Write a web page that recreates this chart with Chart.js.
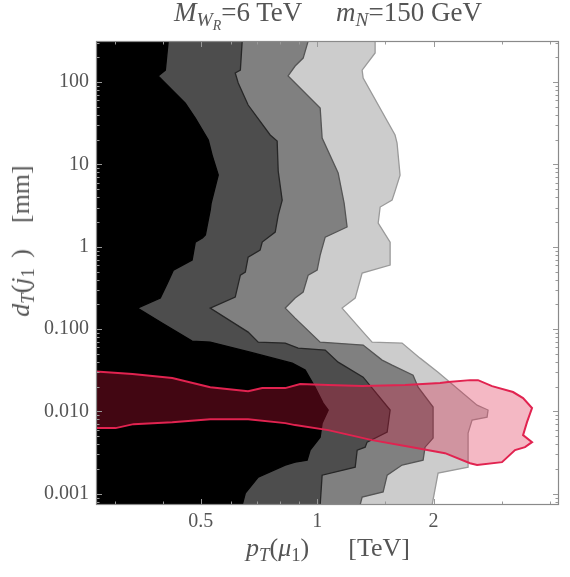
<!DOCTYPE html>
<html>
<head>
<meta charset="utf-8">
<script src="https://cdn.jsdelivr.net/npm/chart.js@4.4.1/dist/chart.umd.min.js"></script>
<style>
body{margin:0;background:#fff;}
#wrap{position:relative;width:570px;height:577px;}
.lbl{position:absolute;font-family:"Liberation Serif","Times New Roman",serif;color:#555;white-space:nowrap;line-height:1;}
.lbl sub{font-size:72%;vertical-align:-0.28em;line-height:0;}
</style>
</head>
<body>
<div id="wrap">
<canvas id="chart" width="570" height="577"></canvas>
<div class="lbl" id="title" style="left:328px;top:-1px;font-size:27px;transform:translateX(-50%);"><i>M</i><sub><i>W</i><sub><i>R</i></sub></sub>=6 TeV&nbsp;&nbsp;&nbsp;&nbsp;&nbsp;<i>m</i><sub><i>N</i></sub>=150 GeV</div>
<div class="lbl" id="xTitle" style="left:328px;top:535px;font-size:26px;transform:translateX(-50%);"><i>p</i><sub><i>T</i></sub>(<i>μ</i><sub>1</sub>)&nbsp;&nbsp;&nbsp;&nbsp;&nbsp;&nbsp;[TeV]</div>
<div class="lbl" id="yTitle" style="left:21px;top:241px;font-size:26px;transform:translate(-50%,-50%) rotate(-90deg);"><i>d</i><sub><i>T</i></sub>(<i>j</i><sub>1</sub>&thinsp;&thinsp;)&nbsp;&nbsp;&nbsp;&nbsp;[mm]</div>
</div>
<script>
// axis ranges (TeV, mm)
const xMin=0.268, xMax=4.22;
const yMin=0.00073, yMax=316;

// tick values
const xTicks=[0.5,1,2];
const xTickLabels=["0.5","1","2"];
const xMinorTicks=[0.3,0.4,0.6,0.7,0.8,0.9,1.5,3,4];
const yTicks=[0.001,0.01,0.1,1,10,100];
const yTickLabels=["0.001","0.010","0.100","1","10","100"];
const yMinorSteps=[2,3,4,5,6,7,8,9];

// contour edges, top to bottom: [pT (TeV), dT (mm)]
const contourBlack=[[0.412,316],[0.405,140],[0.388,119],[0.456,55.7],[0.484,36.6],[0.523,19.8],[0.535,13.0],[0.555,7.43],[0.532,3.40],[0.529,2.79],[0.514,1.39],[0.505,1.28],[0.484,1.14],[0.475,0.689],[0.425,0.521],[0.410,0.362],[0.393,0.238],[0.343,0.180],[0.398,0.118],[0.475,0.0715],[0.529,0.0695],[0.671,0.0525],[0.862,0.0386],[0.931,0.0318],[0.988,0.0197],[1.036,0.0126],[1.068,0.0104],[1.030,0.00721],[1.018,0.00487],[0.959,0.00339],[0.942,0.00256],[0.877,0.00242],[0.827,0.00223],[0.704,0.00159],[0.652,0.00102],[0.640,0.000727]];
const contourDark=[[0.640,316],[0.633,140],[0.614,129],[0.625,97.5],[0.663,52.7],[0.756,22.8],[0.788,19.2],[0.793,8.31],[0.812,3.69],[0.793,2.43],[0.779,1.51],[0.721,1.14],[0.712,0.912],[0.663,0.750],[0.652,0.493],[0.633,0.453],[0.614,0.245],[0.529,0.180],[0.663,0.0919],[0.704,0.0695],[0.827,0.0676],[0.893,0.0588],[1.049,0.0556],[1.133,0.0397],[1.315,0.0261],[1.544,0.0104],[1.517,0.00560],[1.346,0.00424],[1.331,0.00368],[1.269,0.00339],[1.254,0.00210],[1.030,0.00168],[1.018,0.000727]];
const contourMid=[[0.948,316],[0.920,196],[0.877,157],[0.841,119],[0.877,97.5],[1.018,48.4],[1.030,20.9],[1.133,7.86],[1.174,3.40],[1.195,1.74],[1.049,1.31],[1.018,0.793],[1.000,0.521],[0.948,0.453],[0.920,0.282],[0.877,0.238],[0.827,0.180],[0.877,0.136],[1.018,0.0695],[1.315,0.0639],[1.472,0.0420],[1.562,0.0365],[1.770,0.0276],[1.824,0.0197],[1.994,0.0113],[1.994,0.00474],[1.901,0.00368],[1.879,0.00256],[1.658,0.00223],[1.517,0.00168],[1.481,0.00105],[1.307,0.000909],[1.291,0.000727]];
const contourLight=[[1.412,316],[1.412,226],[1.307,140],[1.315,112],[1.590,22.8],[1.609,18.2],[1.638,7.43],[1.590,4.75],[1.562,3.69],[1.455,3.04],[1.438,1.94],[1.544,1.14],[1.544,0.599],[1.307,0.479],[1.254,0.238],[1.160,0.180],[1.315,0.0919],[1.387,0.0695],[1.658,0.0676],[1.845,0.0444],[2.054,0.0300],[2.591,0.0119],[2.766,0.0104],[2.750,0.00853],[2.515,0.00784],[2.456,0.00545],[2.456,0.00210],[2.054,0.00178],[1.982,0.000727]];

// signal region outline (closed)
const signalRegion=[[0.26,0.0309],[0.333,0.0284],[0.422,0.0254],[0.529,0.0197],[0.663,0.0176],[0.721,0.0192],[0.827,0.0192],[0.904,0.0215],[1.068,0.0209],[1.307,0.0203],[1.688,0.0209],[2.079,0.0221],[2.180,0.0227],[2.485,0.0240],[2.606,0.0240],[2.833,0.0203],[3.210,0.0172],[3.407,0.0145],[3.594,0.0110],[3.488,0.00741],[3.407,0.00515],[3.594,0.00424],[3.447,0.00368],[3.248,0.00339],[3.006,0.00242],[2.591,0.00223],[2.485,0.00235],[2.141,0.00311],[1.760,0.00368],[1.387,0.00448],[1.068,0.00593],[0.877,0.00682],[0.827,0.00721],[0.663,0.00806],[0.529,0.00806],[0.422,0.00741],[0.335,0.00701],[0.301,0.00627],[0.26,0.00627]];

function regionPolygon(edge){
    var pts=edge.map(p=>({x:p[0],y:p[1]}));
    pts.unshift({x:edge[0][0],y:400});
    pts.push({x:edge[edge.length-1][0],y:0.0005});
    pts.push({x:0.1,y:0.0005});
    pts.push({x:0.1,y:400});
    return pts;
}

function regionDataset(edge,fillColor,lineColor,order){
    return {
        data:regionPolygon(edge),
        showLine:true,
        fill:'shape',
        backgroundColor:fillColor,
        borderColor:lineColor,
        borderWidth:1.3,
        pointRadius:0,
        tension:0,
        order:order
    };
}

const frameTicks={
    id:'frameTicks',
    afterDatasetsDraw(chart){
        const {ctx,chartArea:a,scales:{x,y}}=chart;
        ctx.save();
        ctx.strokeStyle='#999';
        ctx.lineWidth=1;
        function seg(x1,y1,x2,y2){
            ctx.beginPath();
            ctx.moveTo(x1,y1);
            ctx.lineTo(x2,y2);
            ctx.stroke();
        }
        function xTick(v,len){
            const p=Math.round(x.getPixelForValue(v))+0.5;
            seg(p,a.bottom,p,a.bottom-len);
            seg(p,a.top,p,a.top+len);
        }
        function yTick(v,len){
            const p=Math.round(y.getPixelForValue(v))+0.5;
            if(p<a.top||p>a.bottom) return;
            seg(a.left,p,a.left+len,p);
            seg(a.right,p,a.right-len,p);
        }
        xTicks.forEach(v=>xTick(v,6));
        xMinorTicks.forEach(v=>xTick(v,3.5));
        yTicks.forEach(v=>yTick(v,6));
        [0.0001].concat(yTicks).forEach(d=>{
            yMinorSteps.forEach(s=>yTick(d*s,3.5));
        });
        ctx.strokeStyle='#8a8a8a';
        ctx.lineWidth=1.2;
        ctx.strokeRect(a.left+0.5,a.top+0.5,a.right-a.left-1,a.bottom-a.top-1);
        ctx.restore();
    }
};

const tickFont={family:"'Liberation Serif', 'Times New Roman', serif",size:20};

new Chart(document.getElementById('chart'),{
    type:'scatter',
    data:{
        datasets:[
            {
                data:signalRegion.map(p=>({x:p[0],y:p[1]})),
                showLine:true,
                fill:'shape',
                backgroundColor:'rgba(220,20,60,0.3)',
                borderColor:'rgb(225,35,80)',
                borderWidth:2,
                pointRadius:0,
                tension:0,
                order:1
            },
            regionDataset(contourBlack,'#000000','#000000',2),
            regionDataset(contourDark,'#4d4d4d','#262626',3),
            regionDataset(contourMid,'#808080','#555555',4),
            regionDataset(contourLight,'#cccccc','#9a9a9a',5)
        ]
    },
    options:{
        responsive:false,
        animation:false,
        layout:{padding:{left:0,right:11,top:41,bottom:0}},
        plugins:{legend:{display:false},tooltip:{enabled:false}},
        scales:{
            x:{
                type:'logarithmic',
                min:xMin,
                max:xMax,
                grid:{display:false,drawTicks:false},
                border:{display:false},
                afterBuildTicks:function(scale){
                    scale.ticks=xTicks.map(v=>({value:v}));
                },
                afterFit:function(scale){scale.height=72;},
                ticks:{
                    autoSkip:false,
                    maxRotation:0,
                    padding:5,
                    color:'#555',
                    font:tickFont,
                    callback:function(value){
                        const i=xTicks.indexOf(value);
                        return i>=0 ? xTickLabels[i] : '';
                    }
                }
            },
            y:{
                type:'logarithmic',
                min:yMin,
                max:yMax,
                grid:{display:false,drawTicks:false},
                border:{display:false},
                afterBuildTicks:function(scale){
                    scale.ticks=yTicks.map(v=>({value:v}));
                },
                afterFit:function(scale){scale.width=96;},
                ticks:{
                    autoSkip:false,
                    padding:7,
                    color:'#555',
                    font:tickFont,
                    callback:function(value){
                        const i=yTicks.indexOf(value);
                        return i>=0 ? yTickLabels[i] : '';
                    }
                }
            }
        }
    },
    plugins:[frameTicks]
});
</script>
</body>
</html>
